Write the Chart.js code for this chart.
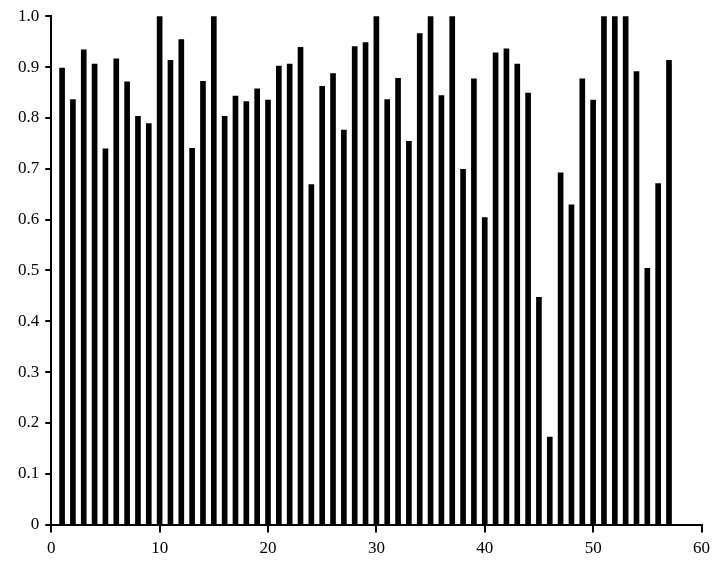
<!DOCTYPE html>
<html>
<head>
<meta charset="utf-8">
<script src="https://cdn.jsdelivr.net/npm/chart.js@4/dist/chart.umd.min.js"></script>
<style>
  html, body { margin: 0; padding: 0; background: #fff; }
  #wrap { width: 716px; height: 567px; }
</style>
</head>
<body>
<div id="wrap"><canvas id="barChart" width="716" height="567"></canvas></div>
<script>
// valores
const positions = [1,2,3,4,5,6,7,8,9,10,11,12,13,14,15,16,17,18,19,20,
  21,22,23,24,25,26,27,28,29,30,31,32,33,34,35,36,37,38,39,40,
  41,42,43,44,45,46,47,48,49,50,51,52,53,54,55,56,57];
const values = [0.898,0.836,0.934,0.906,0.739,0.916,0.871,0.803,0.789,1.0,
  0.913,0.954,0.740,0.872,1.0,0.803,0.843,0.832,0.857,0.835,
  0.902,0.906,0.939,0.669,0.862,0.887,0.776,0.940,0.948,1.0,
  0.836,0.878,0.754,0.966,1.0,0.844,1.0,0.699,0.877,0.604,
  0.928,0.936,0.906,0.849,0.447,0.172,0.692,0.629,0.877,0.835,
  1.0,1.0,1.0,0.891,0.504,0.671,0.913];
const xTicks = [0, 10, 20, 30, 40, 50, 60];
const yTicks = [0, 0.1, 0.2, 0.3, 0.4, 0.5, 0.6, 0.7, 0.8, 0.9, 1.0];

const points = positions.map(function (x, i) { return { x: x, y: values[i] }; });
const font = { family: 'Liberation Serif', size: 17 };

new Chart(document.getElementById('barChart').getContext('2d'), {
  type: 'bar',
  data: {
    datasets: [{
      data: points,
      backgroundColor: '#000',
      borderWidth: 0,
      barThickness: 5
    }]
  },
  options: {
    responsive: false,
    animation: false,
    layout: { padding: { left: 12, right: 2, top: 8, bottom: 2 } },
    plugins: { legend: { display: false }, tooltip: { enabled: false } },
    scales: {
      x: {
        type: 'linear',
        min: 0, max: 60,
        offset: false,
        afterBuildTicks: function (axis) { axis.ticks = xTicks.map(function (v) { return { value: v }; }); },
        ticks: { color: '#000', font: font, padding: 6, maxRotation: 0 },
        grid: { offset: false, drawOnChartArea: false, drawTicks: true, tickLength: 8, color: '#000', lineWidth: 2 },
        border: { color: '#000', width: 2 }
      },
      y: {
        min: 0, max: 1,
        afterBuildTicks: function (axis) { axis.ticks = yTicks.map(function (v) { return { value: v }; }); },
        ticks: {
          color: '#000', font: font, padding: 6,
          callback: function (v) { return v === 0 ? '0' : v.toFixed(1); }
        },
        grid: { drawOnChartArea: false, drawTicks: true, tickLength: 6, color: '#000', lineWidth: 2 },
        border: { color: '#000', width: 2 }
      }
    }
  }
});
</script>
</body>
</html>
